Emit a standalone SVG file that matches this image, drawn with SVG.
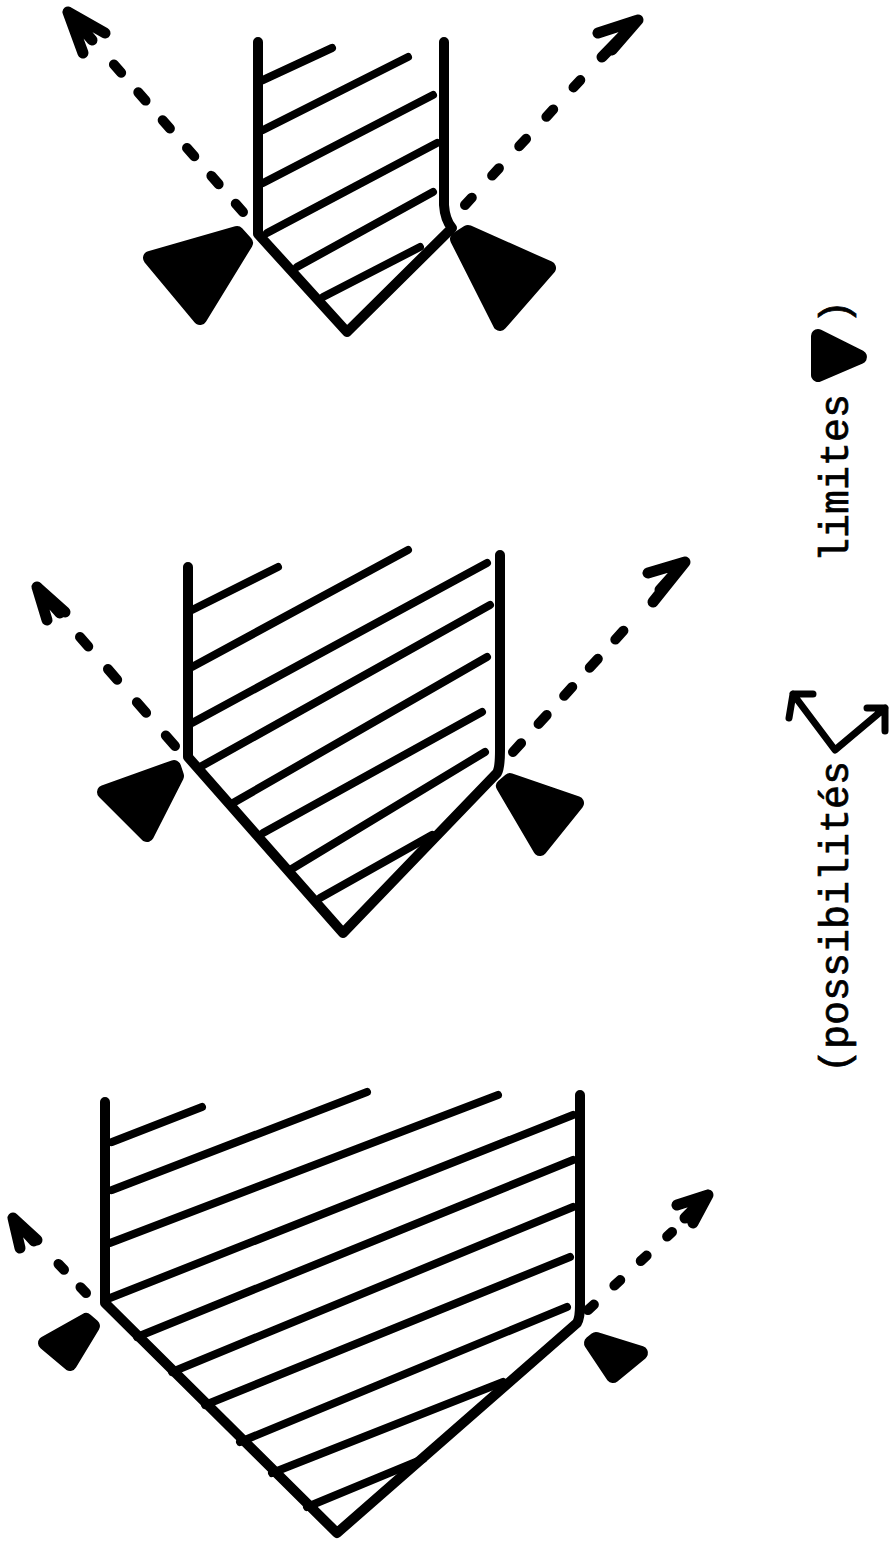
<svg xmlns="http://www.w3.org/2000/svg" width="891" height="1550" viewBox="0 0 891 1550">
<style>
.outline{fill:none;stroke:#000;stroke-width:10;stroke-linecap:round;stroke-linejoin:round}
.hatch{fill:none;stroke:#000;stroke-width:8;stroke-linecap:round}
.tool{fill:#000;stroke:#000;stroke-width:14;stroke-linejoin:round}
.dash{fill:none;stroke:#000;stroke-width:10;stroke-linecap:round}
.head{fill:none;stroke:#000;stroke-width:11;stroke-linecap:round;stroke-linejoin:round}
.label{font-family:"Liberation Mono","DejaVu Sans Mono",monospace;font-size:40px;fill:#000;stroke:#000;stroke-width:0.7}
</style>
<rect width="891" height="1550" fill="#fff"/>

<g id="piece-1">
<path class="outline" d="M258,42 L258,234 L347,332 L452,228 Q445,220 444,205 L444,42"/>
<path class="hatch" d="M263,80 L332,48 M263,130 L408,57 M263,183 L433,95 M267,233 L437,143 M297,267 L433,192 M323,297 L420,247"/>
<polygon class="tool" points="150,258 237,233 246,243 200,318"/>
<polygon class="tool" points="457,239 468,232 549,268 500,324"/>
</g>

<g id="piece-2">
<path class="outline" d="M188,567 L188,757 L343,933 L497,773 Q500,768 500,750 L500,555"/>
<path class="hatch" d="M192,610 L278,567 M192,667 L408,550 M192,723 L487,563 M200,767 L490,605 M233,803 L487,657 M263,833 L482,712 M290,870 L485,752 M320,898 L432,835"/>
<polygon class="tool" points="104,792 174,767 177,776 147,835"/>
<polygon class="tool" points="503,786 510,780 577,803 540,849"/>
</g>

<g id="piece-3">
<path class="outline" d="M105,1102 L105,1303 L337,1533 L577,1323 Q580,1318 580,1305 L580,1095"/>
<path class="hatch" d="M112,1142 L202,1107 M112,1190 L367,1092 M110,1243 L498,1095 M110,1298 L573,1115 M137,1337 L573,1160 M172,1372 L573,1207 M205,1405 L570,1257 M240,1442 L567,1307 M272,1473 L503,1382 M307,1507 L423,1459"/>
<polygon class="tool" points="45,1343 86,1320 93,1326 70,1364"/>
<polygon class="tool" points="591,1343 596,1339 641,1353 613,1376"/>
</g>

<g id="connectors">
<path class="dash" stroke-dasharray="11 26" d="M243,212 L110,60"/>
<path class="head" d="M105,33 L68,12 L83,53 M68,12 L92,40"/>
<path class="dash" stroke-dasharray="10 30" d="M465,205 L585,75"/>
<path class="head" d="M598,33 L638,20 L602,57 M638,20 L612,50"/>
<path class="dash" stroke-dasharray="14 30" d="M175,746 L80,637"/>
<path class="head" d="M65,612 L37,587 L47,620 M37,587 L60,613"/>
<path class="dash" stroke-dasharray="12 26" d="M513,752 L635,618"/>
<path class="head" d="M648,573 L685,562 L653,602 M685,562 L660,590"/>
<path class="dash" stroke-dasharray="8 24" d="M86,1293 L50,1255"/>
<path class="head" d="M37,1240 L13,1218 L20,1248 M13,1218 L34,1241"/>
<path class="dash" stroke-dasharray="8 28" d="M588,1310 L672,1232"/>
<path class="head" d="M677,1205 L708,1195 L693,1223 M708,1195 L685,1218"/>
</g>

<g id="legend">
<text class="label" transform="translate(848,1073) rotate(-90)">(possibilités</text>
<path class="outline" style="stroke-width:7" d="M793,694 L835,750 L885,708 M813,694 L793,694 L789,718 M867,708 L885,708 L885,731"/>
<text class="label" transform="translate(848,562) rotate(-90)">limites</text>
<polygon class="tool" points="818,336 860,357 818,375"/>
<text class="label" transform="translate(848,324) rotate(-90)">)</text>
</g>
</svg>
